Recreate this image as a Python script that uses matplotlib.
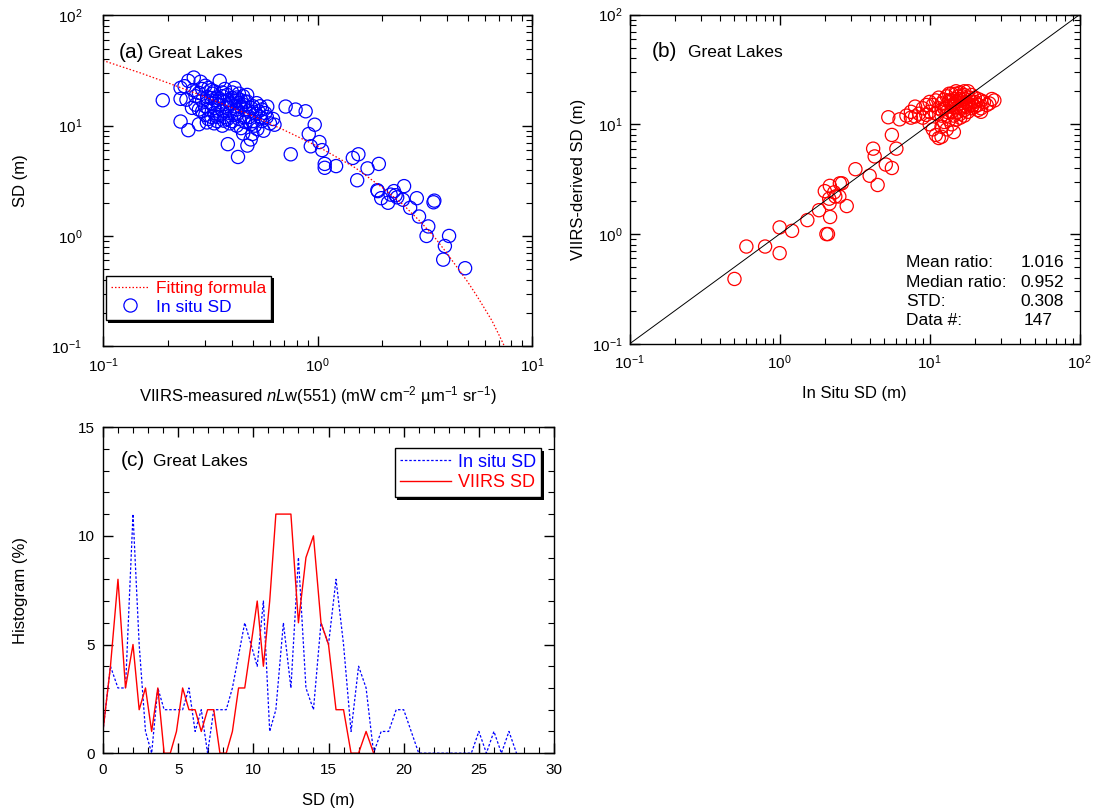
import numpy as np
import matplotlib.pyplot as plt
from matplotlib.ticker import LogLocator, MultipleLocator, NullFormatter
from matplotlib.lines import Line2D

plt.rcParams['font.family'] = ['Liberation Sans', 'DejaVu Sans']
plt.rcParams['mathtext.fontset'] = 'custom'
plt.rcParams['mathtext.rm'] = 'Liberation Sans'
plt.rcParams['mathtext.it'] = 'Liberation Sans:italic'
plt.rcParams['font.size'] = 11

# ---- (a) SD vs nLw(551) ----
nlw_551 = [0.19, 0.23, 0.24, 0.25, 0.265, 0.285, 0.35, 0.23, 0.245, 0.263, 0.23, 0.25,
           0.28, 0.305, 0.29, 0.306, 0.323, 0.335, 0.347, 0.36, 0.366, 0.394, 0.416, 0.439,
           0.423, 0.454, 0.488, 0.515, 0.524, 0.497, 0.488, 0.471, 0.543, 0.583, 0.382, 0.426,
           0.27, 0.28, 0.29, 0.30, 0.31, 0.32, 0.33, 0.27, 0.28, 0.29, 0.30, 0.31, 0.32, 0.33,
           0.34, 0.35, 0.36, 0.37, 0.38, 0.39, 0.40, 0.41, 0.42, 0.43, 0.44, 0.45, 0.46, 0.47,
           0.48, 0.50, 0.52, 0.54, 0.55, 0.57, 0.36, 0.37, 0.38, 0.40, 0.41, 0.43, 0.45, 0.47,
           0.30, 0.31, 0.32, 0.33, 0.34, 0.35, 0.36, 0.37, 0.38, 0.39, 0.40, 0.41, 0.42, 0.43,
           0.44, 0.46, 0.48, 0.50, 0.51, 0.53, 0.55, 0.58, 0.60, 0.62, 0.26, 0.34, 0.38, 0.42,
           0.46, 0.49, 0.33, 0.39, 0.63, 0.56, 0.45, 0.32,
           0.71, 0.79, 0.88, 0.97, 0.91, 1.02, 0.93, 1.05, 0.75, 1.08, 1.08, 1.22, 1.46, 1.55,
           1.53, 1.71, 1.93, 1.90, 1.91, 1.98, 2.13, 2.19, 2.27, 2.31, 2.35, 2.53, 2.5, 2.9,
           2.7, 2.97, 3.28, 3.22, 3.47, 3.5, 4.1, 3.92, 3.85, 4.87]
sd_insitu = [17.0, 22.0, 22.8, 25.5, 27.3, 25.0, 25.5, 17.5, 17.2, 21.0, 10.9, 9.1,
             10.3, 10.7, 16.9, 18.2, 19.5, 16.9, 15.3, 13.7, 11.1, 15.8, 16.9, 14.7,
             12.8, 11.9, 10.3, 12.8, 9.3, 8.4, 7.5, 6.6, 11.9, 14.9, 6.8, 5.2,
             18.5, 19.8, 21.5, 23.0, 22.0, 21.0, 20.5, 15.5, 14.0, 13.5, 15.0, 14.2, 16.0, 13.0,
             12.0, 17.5, 18.5, 16.5, 14.5, 13.0, 17.8, 15.0, 14.0, 16.0, 17.0, 15.5, 14.0, 16.5,
             13.5, 15.0, 16.0, 15.0, 14.0, 13.0, 20.0, 21.5, 19.0, 20.0, 22.0, 19.5, 18.5, 19.0,
             12.5, 11.5, 12.0, 10.5, 11.0, 12.5, 10.0, 12.0, 11.5, 10.5, 11.0, 12.5, 10.0, 11.5,
             9.5, 10.8, 12.0, 11.0, 10.0, 13.5, 11.0, 12.0, 10.5, 11.5, 14.5, 18.0, 17.0, 18.0,
             16.5, 14.5, 14.5, 16.0, 10.2, 9.0, 8.5, 17.8,
             14.9, 14.0, 13.5, 10.2, 8.4, 7.1, 6.5, 6.0, 5.5, 4.5, 4.15, 4.3, 5.1, 5.5,
             3.2, 4.1, 4.5, 2.6, 2.55, 2.2, 2.0, 2.37, 2.55, 2.34, 2.24, 2.83, 2.13, 2.2,
             1.8, 1.5, 1.22, 1.0, 2.02, 2.09, 1.0, 0.81, 0.61, 0.51]

# fitting curve
fit_nlw = [0.1, 0.15, 0.2, 0.3, 0.5, 0.7, 1.0, 1.5, 2.0, 2.5, 3.0, 3.5, 4.0, 4.5, 5.0,
           5.5, 6.0, 6.5, 7.0, 7.5]
fit_sd = [39.0, 30.0, 24.5, 18.2, 12.2, 9.1, 6.5, 4.15, 2.75, 1.93, 1.36, 0.98, 0.70,
          0.51, 0.385, 0.29, 0.22, 0.17, 0.127, 0.096]

# ---- (b) VIIRS-derived SD vs in situ SD ----
sd_situ_b = [0.50, 0.60, 0.80, 1.0, 1.0, 1.21, 1.53, 1.83, 2.05, 2.1, 2.17, 2.15, 2.0, 2.16,
             2.31, 2.52, 2.6, 2.5, 2.8, 2.35, 2.14, 3.2, 3.98, 4.5, 4.3, 4.2, 5.1, 5.6, 6.0,
             5.3, 6.3, 5.6,
             7, 7.5, 8, 8.5, 9, 9.5, 10, 10.5, 11, 11.5, 12, 12.5, 13, 13.5, 14, 14.5, 15, 15.5,
             16, 16.5, 17, 17.5, 18, 18.5, 19, 20, 21, 22, 23, 25, 26, 27, 10, 10.5, 11, 11.5,
             12, 12.5, 13, 13.5, 14, 14.5, 15, 15.5, 16, 16.5, 17, 17.5, 18, 19, 20, 21, 22, 12,
             13, 14, 15, 16, 17, 18, 19, 20, 11, 12, 13, 9, 9.5, 10, 8, 7.5, 14, 15, 16, 17, 15.5,
             13.5, 12.5, 11.5, 16, 18, 19.5, 21, 24, 22, 14, 13, 15, 16, 17, 12, 14.5, 13.5, 14.5]
sd_viirs_b = [0.39, 0.77, 0.77, 0.67, 1.15, 1.07, 1.34, 1.65, 1.0, 1.0, 1.43, 1.9, 2.46, 2.75,
              2.4, 2.9, 2.9, 2.2, 1.8, 2.2, 2.1, 3.9, 3.4, 2.8, 5.1, 6.0, 4.3, 4.0, 6.0,
              11.6, 11.1, 8.0,
              12, 11.5, 11.8, 12.5, 11.5, 12.2, 13, 15, 16.5, 17.5, 15.5, 16.8, 18, 16, 15, 17,
              19, 16.5, 15.5, 18, 17, 16, 20, 15, 16, 17.5, 15, 16.5, 16, 15.5, 17, 16.5, 10, 9,
              8, 7.5, 9.5, 10.5, 12, 11, 13, 12, 14, 13, 12.5, 14.5, 13.5, 14.5, 13, 14, 14.5,
              13.5, 14, 13.5, 14.5, 16.5, 16, 17, 18.5, 17.5, 18.5, 16, 12.5, 12, 13, 14, 15, 16,
              14.5, 13, 19, 20, 19.5, 20, 18, 19, 14, 14, 14, 15.5, 15, 17, 15, 13, 10, 9, 11,
              11.5, 12, 7.7, 8.5, 16.5, 15]
ratio_labels = ['Mean ratio:', 'Median ratio:', 'STD:', 'Data #:']
ratio_values = ['1.016', '0.952', '0.308', '147']

# ---- (c) histograms ----
sd_situ_c = [0, 0.5, 1, 1.5, 2, 2.41, 2.83, 3.24, 3.65, 4.07, 4.48, 4.89, 5.3, 5.72,
             6.13, 6.54, 6.96, 7.37, 7.78, 8.2, 8.61, 9.02, 9.43, 9.85, 10.26, 10.67, 11.09,
             11.5, 12, 12.5, 13, 13.5, 14, 14.5, 15, 15.5, 16, 16.5, 17, 17.5, 18, 18.5, 19,
             19.5, 20, 20.5, 21, 21.5, 22, 22.5, 23, 23.5, 24, 24.5, 25, 25.5, 26, 26.5, 27, 27.5]
hist_situ = [1, 4, 3, 3, 11, 5, 1, 0, 3, 2, 2, 2, 2, 3,
             1, 2, 0, 2, 2, 2, 3, 4.5, 6, 5, 4, 7, 1,
             2, 6, 3, 9, 3, 2, 6, 5, 8, 5, 1, 4,
             3, 0, 1, 1, 2, 2, 1, 0, 0, 0, 0, 0, 0, 0, 0, 1, 0, 1, 0, 1, 0]
sd_viirs_c = [0, 0.5, 1, 1.5, 2, 2.41, 2.83, 3.24, 3.65, 4.07, 4.48, 4.89, 5.3, 5.72,
              6.13, 6.54, 6.96, 7.37, 7.78, 8.2, 8.61, 9.02, 9.43, 9.85, 10.26, 10.67, 11.09,
              11.5, 12, 12.5, 13, 13.5, 14, 14.5, 15, 15.5, 16, 16.5, 17, 17.5, 18]
hist_viirs = [1, 4, 8, 3, 5, 2, 3, 1, 3, 0, 0, 1, 3, 2,
              2, 1, 2, 2, 0, 0, 1, 3, 3, 5, 7, 4, 7,
              11, 11, 11, 6, 9, 10, 6, 5, 2, 2, 0, 0, 1, 0]

BLUE = '#0000ff'
RED = '#ff0000'


def style_axes(ax, ypad=5):
    ax.tick_params(which='both', direction='in', top=True, right=True, labelsize=11)
    ax.tick_params(which='major', length=7, width=1)
    ax.tick_params(which='minor', length=4, width=0.8)
    ax.tick_params(axis='x', pad=7)
    ax.tick_params(axis='y', pad=ypad)
    for s in ax.spines.values():
        s.set_linewidth(1)


def log_ticks(axis):
    axis.set_major_locator(LogLocator(base=10, numticks=10))
    axis.set_minor_locator(LogLocator(base=10, subs=np.arange(2, 10), numticks=10))
    axis.set_minor_formatter(NullFormatter())


def shadow_legend(ax, handles, labels, colors, loc, bbox, fontsize, hlen):
    leg = ax.legend(handles, labels, loc=loc, bbox_to_anchor=bbox, fontsize=fontsize,
                    frameon=True, fancybox=False, handlelength=hlen, handletextpad=0.4,
                    borderpad=0.3, labelspacing=0.2, borderaxespad=0,
                    shadow={'color': 'black', 'alpha': 1.0, 'linewidth': 0})
    leg.get_frame().set_edgecolor('black')
    leg.get_frame().set_linewidth(1)
    for t, c in zip(leg.get_texts(), colors):
        t.set_color(c)
    return leg


fig = plt.figure(figsize=(10.95, 8.09), dpi=100)
ax_a = fig.add_axes([0.094, 0.572, 0.392, 0.409])
ax_b = fig.add_axes([0.575, 0.575, 0.411, 0.407])
ax_c = fig.add_axes([0.094, 0.069, 0.412, 0.403])

# panel (a)
ax_a.plot(fit_nlw, fit_sd, color=RED, lw=0.9, ls=(0, (1.2, 1.6)))
ax_a.scatter(nlw_551, sd_insitu, s=90, facecolors='none', edgecolors=BLUE, linewidths=0.9)
ax_a.set_xscale('log')
ax_a.set_yscale('log')
ax_a.set_xlim(0.1, 10)
ax_a.set_ylim(0.1, 100)
log_ticks(ax_a.xaxis)
log_ticks(ax_a.yaxis)
style_axes(ax_a, ypad=15)
ax_a.set_ylabel('SD (m)', fontsize=12)
ax_a.yaxis.set_label_coords(-0.175, 0.5)
ax_a.set_xlabel('VIIRS-measured $nL$w(551) (mW cm$^{-2}$ \u00b5m$^{-1}$ sr$^{-1}$)', fontsize=12)
ax_a.xaxis.set_label_coords(0.5, -0.115)
ax_a.text(0.038, 0.87, '(a)', transform=ax_a.transAxes, fontsize=15)
ax_a.text(0.105, 0.87, 'Great Lakes', transform=ax_a.transAxes, fontsize=12.5)
h_fit = Line2D([], [], color=RED, lw=0.9, ls=(0, (1.2, 1.6)))
h_pts = Line2D([], [], ls='none', marker='o', ms=9.5, mfc='none', mec=BLUE, mew=0.9)
shadow_legend(ax_a, [h_fit, h_pts], ['Fitting formula', 'In situ SD'], [RED, BLUE],
              'lower left', (0.006, 0.08), 12.5, 2.2)

# panel (b)
ax_b.plot([0.1, 100], [0.1, 100], color='black', lw=0.7)
ax_b.scatter(sd_situ_b, sd_viirs_b, s=90, facecolors='none', edgecolors=RED, linewidths=0.9)
ax_b.set_xscale('log')
ax_b.set_yscale('log')
ax_b.set_xlim(0.1, 100)
ax_b.set_ylim(0.1, 100)
log_ticks(ax_b.xaxis)
log_ticks(ax_b.yaxis)
style_axes(ax_b)
ax_b.set_xlabel('In Situ SD (m)', fontsize=12)
ax_b.xaxis.set_label_coords(0.5, -0.128)
ax_b.set_ylabel('VIIRS-derived SD (m)', fontsize=12)
ax_b.text(0.049, 0.87, '(b)', transform=ax_b.transAxes, fontsize=15)
ax_b.text(0.129, 0.87, 'Great Lakes', transform=ax_b.transAxes, fontsize=12.5)
for i, (lab, val) in enumerate(zip(ratio_labels, ratio_values)):
    y = 0.232 - i * 0.058
    ax_b.text(0.615, y, lab, transform=ax_b.transAxes, fontsize=12.5)
    ax_b.text(0.965 if i < 3 else 0.94, y, val, transform=ax_b.transAxes, fontsize=12.5, ha='right')

# panel (c)
ax_c.plot(sd_situ_c, hist_situ, color=BLUE, lw=0.9, ls=(0, (2, 1.5)))
ax_c.plot(sd_viirs_c, hist_viirs, color=RED, lw=1.0)
ax_c.set_xlim(0, 30)
ax_c.set_ylim(0, 15)
ax_c.xaxis.set_major_locator(MultipleLocator(5))
ax_c.xaxis.set_minor_locator(MultipleLocator(1))
ax_c.yaxis.set_major_locator(MultipleLocator(5))
ax_c.yaxis.set_minor_locator(MultipleLocator(1))
style_axes(ax_c, ypad=6)
ax_c.set_xlabel('SD (m)', fontsize=12)
ax_c.xaxis.set_label_coords(0.5, -0.123)
ax_c.set_ylabel('Histogram (%)', fontsize=12)
ax_c.yaxis.set_label_coords(-0.166, 0.5)
ax_c.text(0.04, 0.88, '(c)', transform=ax_c.transAxes, fontsize=15)
ax_c.text(0.11, 0.88, 'Great Lakes', transform=ax_c.transAxes, fontsize=12.5)
h_situ = Line2D([], [], color=BLUE, lw=0.9, ls=(0, (2, 1.5)))
h_viirs = Line2D([], [], color=RED, lw=1.0)
shadow_legend(ax_c, [h_situ, h_viirs], ['In situ SD', 'VIIRS SD'], [BLUE, RED],
              'upper right', (0.972, 0.935), 13, 2.8)

fig.savefig('out.png', dpi=100)
